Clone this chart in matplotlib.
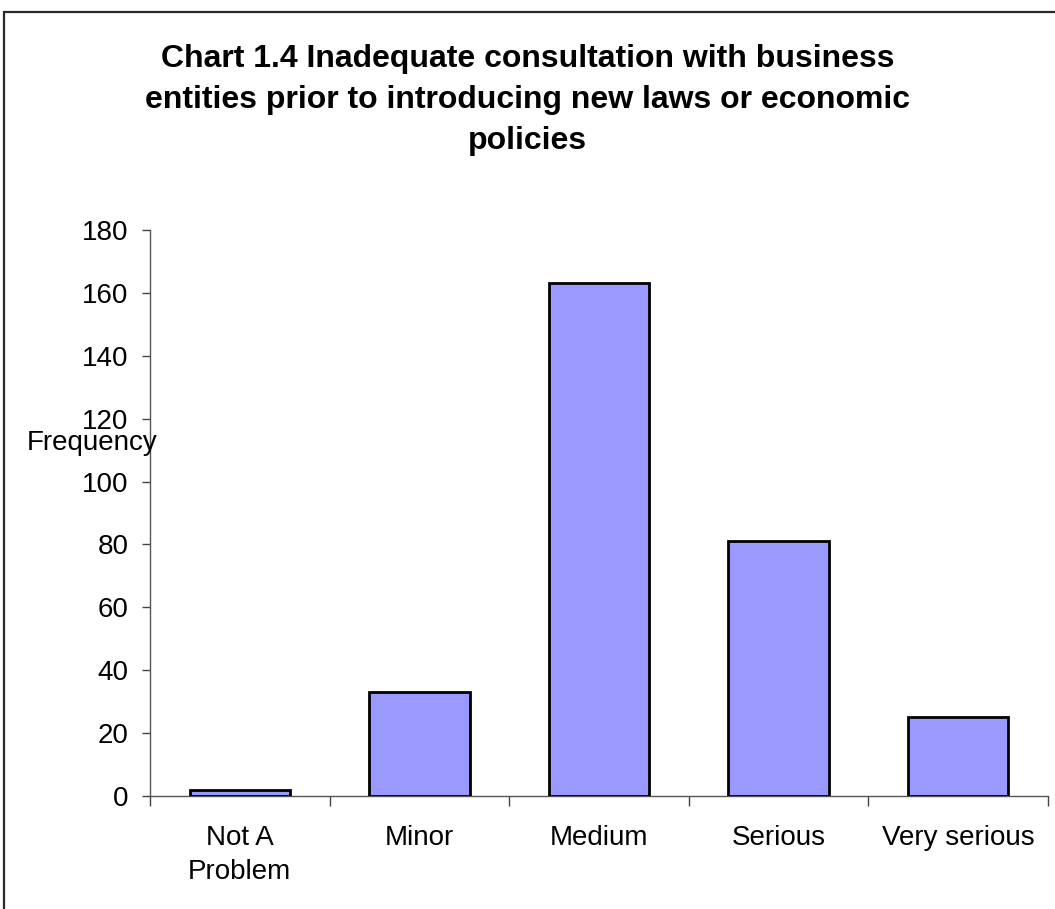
import matplotlib
matplotlib.use("Agg")
import matplotlib.pyplot as plt
from matplotlib.patches import Rectangle
import numpy as np

categories = ["Not A\nProblem", "Minor", "Medium", "Serious", "Very serious"]
frequency = [2, 33, 163, 81, 25]
y_ticks = [0, 20, 40, 60, 80, 100, 120, 140, 160, 180]

title_lines = ["Chart 1.4 Inadequate consultation with business",
               "entities prior to introducing new laws or economic",
               "policies"]

plt.rcParams["font.family"] = ["Liberation Sans", "DejaVu Sans"]

fig = plt.figure(figsize=(10.55, 9.09), dpi=100)
W, H = 1055, 909

# outer chart frame (runs off the right and bottom edges)
fig.patches.append(Rectangle((4 / W, -0.05), 1.2, 1.05 - 12 / H,
                             transform=fig.transFigure, fill=False,
                             edgecolor="#2a2a2a", linewidth=1.6, zorder=0))

ax = fig.add_axes([150 / W, 1 - 796 / H, (1048 - 150) / W, (796 - 230) / H])

x = np.arange(len(categories))
ax.bar(x, frequency, width=0.56, color="#9999FF", edgecolor="black",
       linewidth=2.0, zorder=3)

ax.set_xlim(-0.5, len(categories) - 0.5)
ax.set_ylim(0, 180)
ax.set_yticks(y_ticks)
ax.set_yticklabels([str(v) for v in y_ticks])

# category boundaries carry the tick marks, centres carry the labels
ax.set_xticks(np.arange(-0.5, len(categories), 1.0))
ax.set_xticklabels([])
ax.set_xticks(x, minor=True)
ax.set_xticklabels(categories, minor=True, linespacing=1.4)
ax.tick_params(axis="x", which="minor", length=0, pad=21, labelsize=20)
ax.tick_params(axis="x", which="major", length=7, width=1.0, color="#444444",
               direction="out")
ax.tick_params(axis="y", length=5.5, width=1.0, color="#444444",
               direction="out", pad=10, labelsize=20)

for side in ("top", "right"):
    ax.spines[side].set_visible(False)
for side in ("left", "bottom"):
    ax.spines[side].set_color("#555555")
    ax.spines[side].set_linewidth(1.0)

fig.text(27 / W, 1 - 443 / H, "Frequency", fontsize=20, ha="left",
         va="center")

# three-line bold title, one baseline per line
for line, base in zip(title_lines, [67, 108, 149]):
    fig.text(0.5, 1 - base / H, line, fontsize=23, fontweight="bold",
             ha="center", va="baseline")

fig.savefig("out.png", dpi=100)
